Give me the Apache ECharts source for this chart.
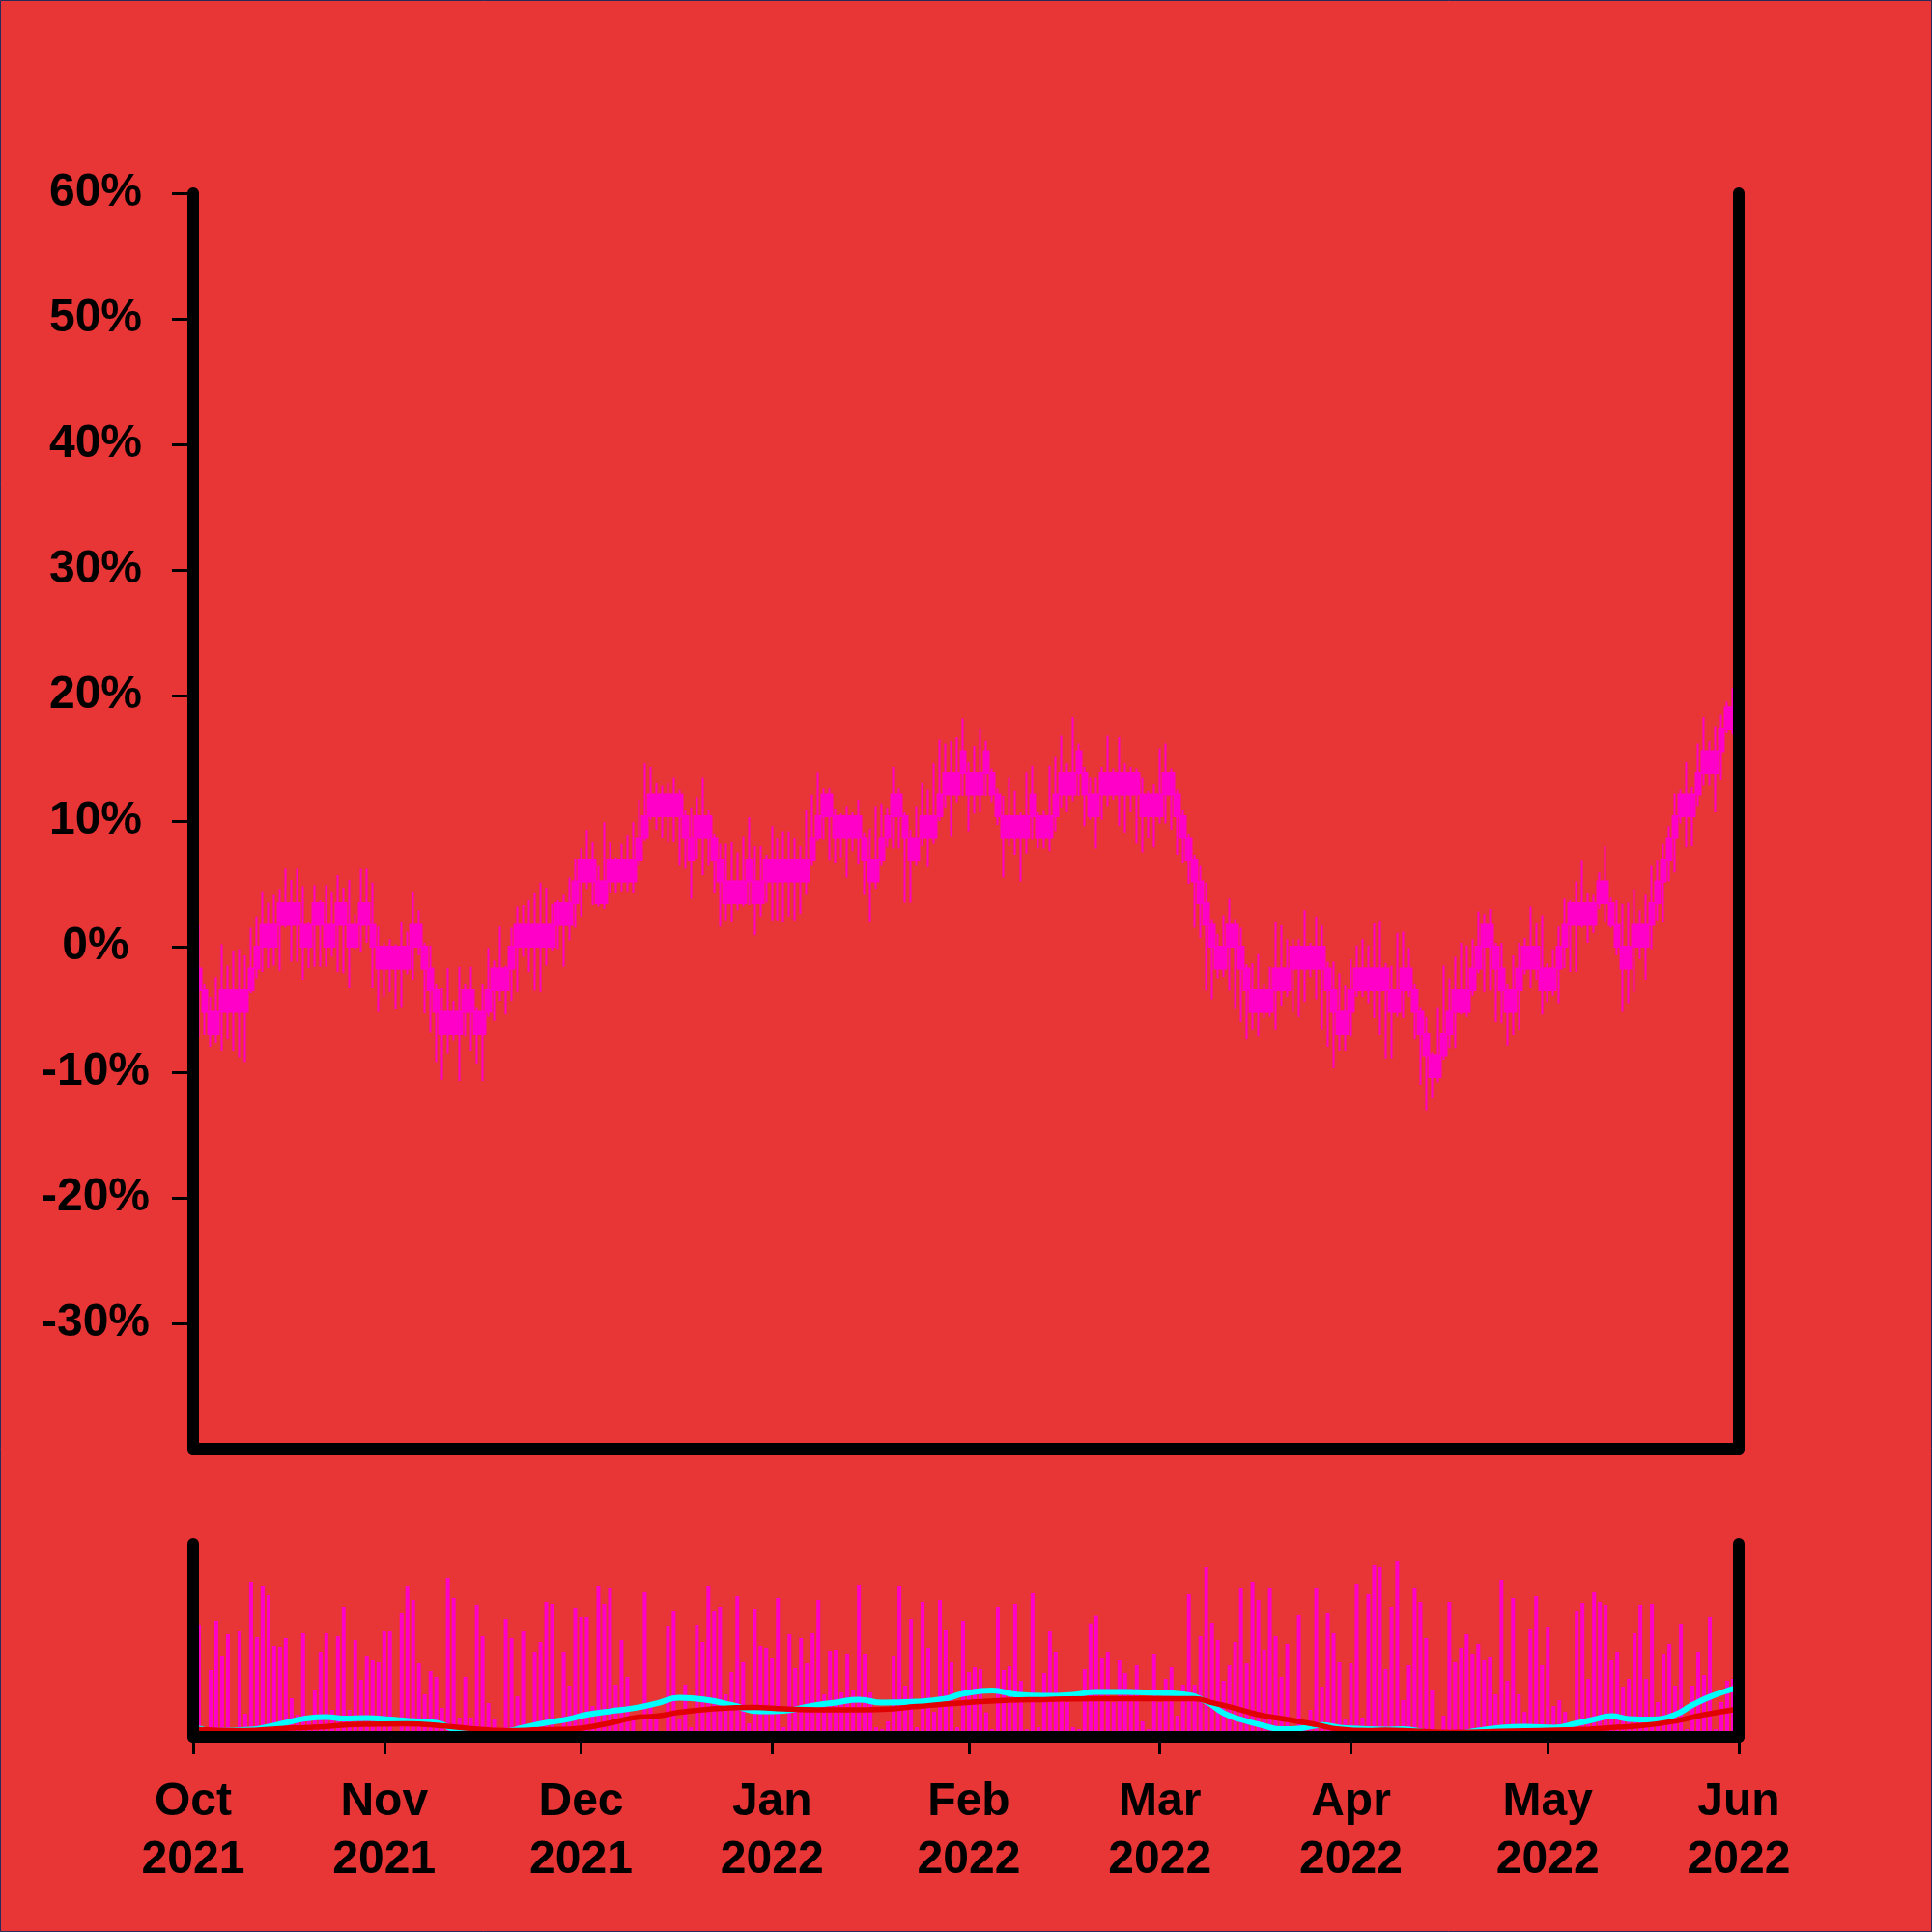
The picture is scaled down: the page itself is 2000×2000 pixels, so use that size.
<!DOCTYPE html>
<html>
<head>
<meta charset="utf-8">
<script src="https://cdn.jsdelivr.net/npm/echarts/dist/echarts.min.js"></script>
<style>
html,body{margin:0;padding:0;background:#e83535;}
#c{width:2000px;height:2000px;}
</style>
</head>
<body>
<div id="c"></div>
<script>
// ---- tick labels ----
const monthLabels = ['Oct\n2021','Nov\n2021','Dec\n2021','Jan\n2022','Feb\n2022','Mar\n2022','Apr\n2022','May\n2022','Jun\n2022'];
const monthTickIndex = [0, 33, 67, 100, 134, 167, 200, 234, 267];
const yTickValues = [-30, -20, -10, 0, 10, 20, 30, 40, 50, 60];

// ---- candle values (percent) ----
const opens = [
0,-1.73,-3.46,-5.19,-6.92,-5.19,-3.46,-5.19,-3.46,-5.19,
-3.46,-1.73,0,1.73,0,1.73,3.46,1.73,3.46,1.73,
0,1.73,3.46,1.73,0,1.73,3.46,1.73,0,1.73,
3.46,1.73,0,-1.73,0,-1.73,0,-1.73,0,1.73,
0,-1.73,-3.46,-5.19,-6.92,-5.19,-6.92,-5.19,-3.46,-5.19,
-6.92,-5.19,-3.46,-1.73,-3.46,-1.73,0,1.73,0,1.73,
0,1.73,0,1.73,3.46,1.73,3.46,5.19,6.92,5.19,
5.19,3.46,5.19,6.92,5.19,6.92,5.19,6.92,8.65,10.38,
12.11,10.38,12.11,10.38,12.11,10.38,8.65,8.65,10.38,8.65,
8.65,6.92,5.19,3.46,5.19,3.46,5.19,5.19,3.46,5.19,
6.92,5.19,6.92,5.19,6.92,5.19,6.92,6.92,8.65,10.38,
12.11,10.38,8.65,10.38,8.65,10.38,8.65,6.92,5.19,6.92,
8.65,10.38,12.11,10.38,8.65,6.92,8.65,10.38,8.65,10.38,
12.11,13.84,12.11,13.84,13.84,12.11,13.84,13.84,13.84,12.11,
10.38,8.65,10.38,8.65,10.38,10.38,10.38,8.65,10.38,10.38,
12.11,13.84,12.11,13.84,13.84,12.11,10.38,12.11,13.84,12.11,
13.84,12.11,13.84,12.11,12.11,10.38,12.11,10.38,12.11,13.84,
12.11,10.38,8.65,6.92,5.19,3.46,1.73,0,-1.73,0,
1.73,0,-1.73,-3.46,-5.19,-3.46,-5.19,-3.46,-1.73,-3.46,
-1.73,0,-1.73,0,-1.73,0,-1.73,-3.46,-5.19,-6.92,
-5.19,-3.46,-1.73,-3.46,-1.73,-3.46,-1.73,-3.46,-5.19,-3.46,
-1.73,-3.46,-5.19,-6.92,-8.65,-10.38,-8.65,-6.92,-5.19,-3.46,
-5.19,-3.46,-1.73,0,1.73,0,-1.73,-3.46,-5.19,-3.46,
-1.73,0,-1.73,-1.73,-3.46,-1.73,-1.73,0,1.73,3.46,
1.73,3.46,1.73,3.46,5.19,3.46,1.73,0,-1.73,0,
1.73,0,1.73,3.46,5.19,6.92,8.65,10.38,12.11,10.38,
12.11,13.84,15.57,13.84,15.57,17.30,19.03,17.30
];
const closes = [
-1.73,-3.46,-5.19,-6.92,-5.19,-3.46,-5.19,-3.46,-5.19,-3.46,
-1.73,0,1.73,0,1.73,3.46,1.73,3.46,1.73,0,
1.73,3.46,1.73,0,1.73,3.46,1.73,0,1.73,3.46,
1.73,0,-1.73,0,-1.73,0,-1.73,0,1.73,0,
-1.73,-3.46,-5.19,-6.92,-5.19,-6.92,-5.19,-3.46,-5.19,-6.92,
-5.19,-3.46,-1.73,-3.46,-1.73,0,1.73,0,1.73,0,
1.73,0,1.73,3.46,1.73,3.46,5.19,6.92,5.19,6.92,
3.46,5.19,6.92,5.19,6.92,5.19,6.92,8.65,10.38,12.11,
10.38,12.11,10.38,12.11,10.38,8.65,6.92,10.38,8.65,10.38,
6.92,5.19,3.46,5.19,3.46,5.19,6.92,3.46,5.19,6.92,
5.19,6.92,5.19,6.92,5.19,6.92,5.19,8.65,10.38,12.11,
10.38,8.65,10.38,8.65,10.38,8.65,6.92,5.19,6.92,8.65,
10.38,12.11,10.38,8.65,6.92,8.65,10.38,8.65,10.38,12.11,
13.84,12.11,13.84,15.57,12.11,13.84,12.11,15.57,12.11,10.38,
8.65,10.38,8.65,10.38,8.65,12.11,8.65,10.38,8.65,12.11,
13.84,12.11,13.84,15.57,12.11,10.38,12.11,13.84,12.11,13.84,
12.11,13.84,12.11,13.84,10.38,12.11,10.38,12.11,13.84,12.11,
10.38,8.65,6.92,5.19,3.46,1.73,0,-1.73,0,1.73,
0,-1.73,-3.46,-5.19,-3.46,-5.19,-3.46,-1.73,-3.46,-1.73,
0,-1.73,0,-1.73,0,-1.73,-3.46,-5.19,-6.92,-5.19,
-3.46,-1.73,-3.46,-1.73,-3.46,-1.73,-3.46,-5.19,-3.46,-1.73,
-3.46,-5.19,-6.92,-8.65,-10.38,-8.65,-6.92,-5.19,-3.46,-5.19,
-3.46,-1.73,0,1.73,0,-1.73,-3.46,-5.19,-3.46,-1.73,
0,-1.73,0,-3.46,-1.73,-3.46,0,1.73,3.46,1.73,
3.46,1.73,3.46,5.19,3.46,1.73,0,-1.73,0,1.73,
0,1.73,3.46,5.19,6.92,8.65,10.38,12.11,10.38,12.11,
13.84,15.57,13.84,15.57,17.30,19.03,17.30,19.03
];
const lows = [
-5.5,-7.2,-7.0,-8.0,-7.7,-8.3,-7.4,-8.3,-8.8,-9.2,
-3.7,-2.5,-2.0,-1.7,-1.5,-1.9,1.5,-1.2,-1.2,-2.7,
-1.7,-1.6,-1.6,-1.6,-0.8,-2.0,-2.1,-3.3,-0.2,-0.4,
0.3,-3.3,-5.2,-4.0,-3.6,-5.0,-4.8,-2.2,-2.7,-0.7,
-5.3,-6.8,-9.2,-10.6,-8.5,-7.5,-10.7,-7.1,-8.3,-9.3,
-10.7,-5.6,-5.9,-4.3,-5.4,-4.3,-3.6,-0.8,-2.0,-3.5,
-3.6,-1.5,-0.3,-0.2,-1.6,0.5,1.5,2.4,4.6,3.3,
3.2,3.0,4.3,4.3,4.4,4.4,4.3,6.5,8.4,10.1,
9.3,8.7,8.3,8.3,6.5,6.2,3.8,7.0,5.7,6.5,
4.3,1.6,2.1,2.0,2.9,3.2,3.3,0.9,2.4,3.5,
2.1,2.1,2.0,2.4,2.1,2.6,4.2,6.5,8.4,8.5,
6.9,6.7,7.1,5.5,7.6,6.6,4.2,2.0,4.6,6.5,
7.9,7.8,7.8,3.5,3.5,6.5,8.0,6.4,8.2,10.0,
11.1,8.8,11.5,12.0,9.2,10.6,10.7,12.0,11.5,9.7,
5.5,8.0,7.3,5.2,7.4,8.5,7.8,7.8,7.6,9.2,
11.1,10.7,11.6,12.0,9.6,10.1,7.8,10.1,11.2,11.7,
9.6,9.1,10.7,8.2,7.5,8.7,7.9,9.8,9.8,9.3,
7.3,6.7,5.0,1.5,0.7,-3.5,-4.2,-2.5,-2.4,-3.5,
-4.9,-6.0,-7.4,-6.6,-7.1,-5.7,-5.6,-6.6,-4.7,-4.0,
-5.2,-5.6,-4.4,-2.4,-4.2,-6.6,-8.0,-9.7,-8.3,-8.3,
-7.1,-4.0,-4.0,-4.5,-5.7,-7.0,-8.9,-8.9,-5.6,-5.7,
-4.0,-7.4,-11.0,-13.05,-12.1,-10.8,-9.0,-8.1,-8.1,-5.4,
-5.6,-3.9,-2.1,-3.6,-3.5,-6.0,-6.1,-7.9,-7.0,-6.6,
-2.2,-3.3,-2.7,-5.4,-4.4,-3.9,-4.5,-1.7,-2.0,-2.0,
1.5,0.3,1.1,3.0,2.0,1.5,-0.7,-5.2,-4.5,-3.6,
-1.0,-2.7,-0.2,2.1,2.0,5.2,5.9,9.8,7.9,8.0,
11.2,12.8,12.8,10.7,13.3,17.0,16.9,16.8
];
const highs = [
1.8,1.7,-3.0,-4.0,-2.4,0.2,-1.5,-0.3,-0.2,-0.7,
1.5,2.4,4.4,3.5,4.2,4.6,6.2,5.3,6.2,4.8,
2.0,4.9,3.7,4.9,4.4,5.7,4.7,5.3,2.6,6.2,
6.2,5.1,1.6,0.3,0.6,0.2,2.0,1.2,4.4,2.9,
0.3,0.1,-3.0,-3.3,-1.7,-4.3,-1.6,-3.0,-1.6,-4.8,
-3.0,-0.1,-1.1,1.6,-1.5,1.5,3.2,3.3,3.7,4.3,
5.1,4.7,3.4,3.7,4.2,5.5,7.0,7.8,9.3,8.3,
6.5,9.9,8.3,7.1,8.2,8.9,9.9,11.7,14.6,14.3,
13.0,12.8,13.0,13.5,12.5,10.9,11.1,11.9,13.5,10.9,
9.0,8.2,8.2,8.3,7.5,8.8,10.3,8.0,8.0,7.3,
9.6,8.7,9.2,9.2,8.7,8.0,10.9,12.1,13.9,12.6,
12.6,11.0,10.6,11.2,10.7,11.7,9.1,9.4,11.2,11.4,
11.1,14.3,12.6,10.7,9.3,11.2,13.0,12.5,14.6,16.5,
16.2,16.4,16.7,18.2,14.7,16.0,17.3,16.4,14.2,12.6,
12.0,13.5,12.4,10.7,13.9,14.4,10.7,10.8,14.4,15.1,
16.8,14.6,18.3,16.2,14.3,13.5,13.5,14.3,16.8,14.2,
16.7,14.6,14.3,14.2,13.5,12.4,12.9,15.8,16.2,14.2,
12.5,10.9,9.0,7.3,6.5,5.1,2.2,1.0,2.5,3.8,
2.2,1.5,-1.4,-1.3,-0.6,-3.0,-1.6,2.0,1.7,0.6,
0.6,0.6,2.9,0.3,2.4,1.7,-1.2,-1.2,-2.1,-3.1,
-1.0,0.1,0.6,0.1,1.9,2.1,-1.3,-1.5,1.1,1.2,
-0.1,-3.0,-4.8,-5.6,-8.4,-4.8,-1.5,-2.5,-0.8,0.3,
0.1,0.6,2.8,2.6,3.0,0.3,0.3,-3.0,-0.7,0.3,
0.7,3.2,1.9,2.5,-1.3,-0.2,1.6,3.8,3.7,5.2,
6.9,4.3,4.2,5.9,8.0,3.9,3.7,3.4,3.5,4.6,
2.9,4.2,6.5,6.9,8.2,9.6,12.2,12.5,14.7,12.7,
16.2,18.3,16.4,17.5,18.5,19.5,20.6,20.2
];

// ---- volume values (panel units, 0..100) ----
const volumes = [
30,58,2,34.5,60,42,53,2,55,12,
80,51.5,78,73.5,47,46.5,51,20,11.5,54,
9,24,44,54,14,52,67,14,50,29.5,
42,40,39,55,55,3,64,78,71,38,
22,34,31,15,82,72,10,31,10,68,
52,17.5,9.5,2,61,51,21,55,4,44,
49,70,69,3,44,26.5,66.5,62,62,16,
78,69,77,27,50,31,9,3,75,16,
9,3,57.5,65,9,27,5,58,49,78,
65,67,22,33.5,73,39,7,66,47,46,
41,72,5,53,35.5,51,38,54,71,22,
44.5,45,23,43,24,78.5,43,23,5,4,
8,42,78,26.5,61,5,70,46,13,71,
55.5,39,5,60,33.5,36,35,12.7,4,67,
34.5,36.5,69,29,4,74.5,5,33,55,44,
22,18,5,4,35,58.7,62.7,41,44,18,
40,33,25,37,8,4,43,18,30,36,
11,27,74,27,52,88,59,50,29,37,
49,77,38,80,71,45,77,52,31,48,
5,63,4,14,77,26,64,54,39,9,
38,79,10,74,89,88,35,67,91,19,
37,77,70,51,24,3,11,70,38.5,46,
53,43,48,40,41.5,22,81,29,72,22,
13,56,73,37,57,16,19,13,4,65,
69.5,30,75,70,68,40,44,26,30,54,
68.5,30,69,18,43,48,26.5,58.5,4,26.5,
44,32,62,4,18,29,30,30
];

// ---- the two lines in the lower panel: [candle index, value] ----
const cyanPts = [[0,4.5],[1,4.3],[3,3.0],[10,3.7],[13,5.3],[16,7.3],[19,9.3],[23,10.3],[26,9.5],[30,9.7],[34,9.0],[37,8.3],[42,7.3],[45,4.0],[48,2.7],[54,3.0],[57,4.8],[61,7.3],[65,9.3],[68,11.5],[72,13.2],[76,14.8],[80,17.3],[84,20.2],[89,19.0],[93,16.5],[98,13.2],[102,13.5],[107,16.2],[111,17.8],[115,19.3],[119,17.7],[125,18.2],[130,19.8],[133,22.3],[138,24.0],[142,22.0],[147,21.2],[152,21.8],[156,23.2],[161,23.2],[167,22.7],[171,22.0],[175,18.2],[178,12.3],[181,9.0],[185,5.7],[188,4.0],[191,4.3],[195,6.1],[198,4.8],[201,4.3],[206,3.8],[209,4.0],[213,2.3],[217,1.5],[222,3.2],[226,4.8],[230,5.3],[235,4.8],[239,7.0],[242,9.0],[245,10.7],[248,9.3],[252,9.0],[256,11.5],[259,16.5],[262,20.7],[266,24.8],[267,25.5]];
const redPts = [[0,3.8],[1,3.7],[9,3.2],[15,4.3],[21,5.0],[29,6.5],[37,6.7],[43,5.7],[48,4.3],[54,3.2],[60,3.7],[65,4.0],[71,6.5],[76,9.8],[80,10.7],[84,12.7],[89,14.3],[97,15.2],[102,14.5],[108,14.0],[114,14.0],[119,14.3],[125,15.7],[130,17.0],[136,18.2],[141,19.0],[147,19.3],[156,19.8],[161,19.8],[167,19.8],[173,19.8],[176,17.7],[180,14.8],[184,11.5],[189,9.0],[194,6.3],[198,4.0],[203,3.2],[206,3.5],[211,3.0],[217,2.3],[228,3.0],[239,3.7],[245,4.8],[250,5.7],[256,8.2],[261,11.5],[266,14.0],[267,14.5]];

// ---- build chart ----
const BG = '#e83535';
const MAG = '#ff00c8';
const FONT = "'Liberation Sans', Arial, sans-serif";
const cats = opens.map((_, i) => String(i));
const candleData = opens.map((o, i) => [o, closes[i], lows[i], highs[i]]);

const thickLine = { show: true, onZero: false, lineStyle: { color: '#000', width: 12, cap: 'round' } };
const labelStyle = { color: '#000', fontFamily: FONT, fontWeight: 'bold', fontSize: 48 };

const chart = echarts.init(document.getElementById('c'), null, { renderer: 'canvas', width: 2000, height: 2000 });
chart.setOption({
  backgroundColor: BG,
  animation: false,
  grid: [
    { left: 200, top: 200, width: 1600, height: 1300 },
    { left: 200, top: 1598, width: 1600, height: 200 }
  ],
  xAxis: [
    { type: 'category', gridIndex: 0, data: cats, boundaryGap: false, z: 10,
      axisLine: thickLine, axisTick: { show: false }, axisLabel: { show: false }, splitLine: { show: false } },
    { type: 'category', gridIndex: 1, data: cats, boundaryGap: false, z: 10,
      axisLine: thickLine,
      axisTick: { show: true, interval: (i) => monthTickIndex.includes(i), length: 18, lineStyle: { color: '#000', width: 3 } },
      axisLabel: Object.assign({ show: true, interval: (i) => monthTickIndex.includes(i), margin: 38, lineHeight: 60, align: 'center',
        formatter: (v, i) => { const k = monthTickIndex.indexOf(i); return k >= 0 ? monthLabels[k] : ''; } }, labelStyle),
      splitLine: { show: false } }
  ],
  yAxis: [
    { type: 'value', gridIndex: 0, min: -40, max: 60, interval: 10, position: 'left', z: 10,
      axisLine: thickLine,
      axisTick: { show: true, customValues: yTickValues, length: 22, lineStyle: { color: '#000', width: 3 } },
      axisLabel: Object.assign({ show: true, customValues: yTickValues, margin: 101, align: 'center', formatter: (v) => v + '%' }, labelStyle),
      splitLine: { show: false } },
    { type: 'value', gridIndex: 0, min: -40, max: 60, interval: 10, position: 'right', z: 10,
      axisLine: thickLine, axisTick: { show: false }, axisLabel: { show: false }, splitLine: { show: false } },
    { type: 'value', gridIndex: 1, min: 0, max: 100, position: 'left', z: 10,
      axisLine: thickLine, axisTick: { show: false }, axisLabel: { show: false }, splitLine: { show: false } },
    { type: 'value', gridIndex: 1, min: 0, max: 100, position: 'right', z: 10,
      axisLine: thickLine, axisTick: { show: false }, axisLabel: { show: false }, splitLine: { show: false } }
  ],
  series: [
    { type: 'candlestick', xAxisIndex: 0, yAxisIndex: 0, data: candleData, barWidth: 6,
      itemStyle: { color: MAG, color0: MAG, borderColor: MAG, borderColor0: MAG, borderColorDoji: MAG, borderWidth: 2 } },
    { type: 'bar', xAxisIndex: 1, yAxisIndex: 2, data: volumes, barWidth: 4, itemStyle: { color: MAG } },
    { type: 'line', xAxisIndex: 1, yAxisIndex: 2, data: cyanPts, smooth: 0.5, symbol: 'none',
      lineStyle: { color: '#00ffff', width: 6 } },
    { type: 'line', xAxisIndex: 1, yAxisIndex: 2, data: redPts, smooth: 0.5, symbol: 'none',
      lineStyle: { color: '#e00000', width: 5.5 } }
  ],
  graphic: [
    { type: 'rect', shape: { x: 0.5, y: 0.5, width: 1999, height: 1999 }, style: { fill: 'none', stroke: '#2a2a5a', lineWidth: 1 }, z: 100 }
  ]
});
</script>
</body>
</html>
